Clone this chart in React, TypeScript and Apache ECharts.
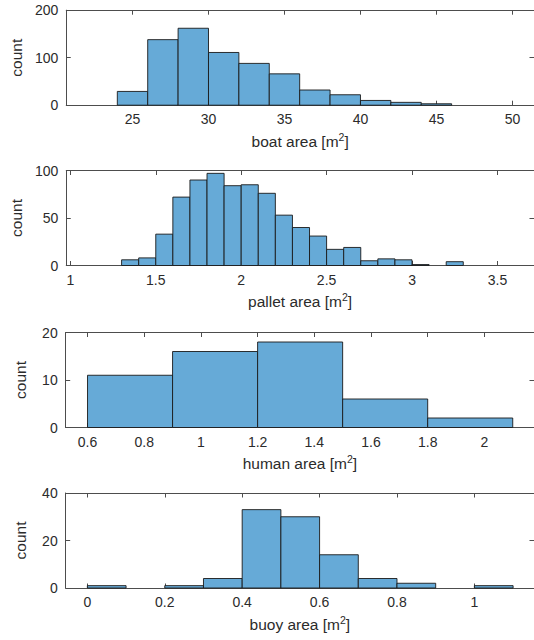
import React, { useEffect, useRef } from "react";
import * as echarts from "echarts";

// ---- data ----
const boatBinEdges = [24, 26, 28, 30, 32, 34, 36, 38, 40, 42, 44, 46];
const boatCounts = [29, 138, 162, 111, 88, 66, 32, 22, 10, 6, 3];
const boatTicks = [25, 30, 35, 40, 45, 50];

const palletBinEdges = [1.3, 1.4, 1.5, 1.6, 1.7, 1.8, 1.9, 2.0, 2.1, 2.2, 2.3, 2.4, 2.5, 2.6, 2.7, 2.8, 2.9, 3.0, 3.1, 3.2, 3.3];
const palletCounts = [6, 8, 33, 72, 90, 97, 84, 85, 76, 53, 40, 31, 17, 19, 5, 7, 6, 1, 0, 4];
const palletTicks = [1, 1.5, 2, 2.5, 3, 3.5];

const humanBinEdges = [0.6, 0.9, 1.2, 1.5, 1.8, 2.1];
const humanCounts = [11, 16, 18, 6, 2];
const humanTicks = [0.6, 0.8, 1, 1.2, 1.4, 1.6, 1.8, 2];

const buoyBinEdges = [0, 0.1, 0.2, 0.3, 0.4, 0.5, 0.6, 0.7, 0.8, 0.9, 1.0, 1.1];
const buoyCounts = [1, 0, 1, 4, 33, 30, 14, 4, 2, 0, 1];
const buoyTicks = [0, 0.2, 0.4, 0.6, 0.8, 1];

const panels = [
  { label: "boat area", edges: boatBinEdges, counts: boatCounts, ticks: boatTicks, xMin: 20.64, xMax: 51.42, yMax: 200, yStep: 100, top: 10.2 },
  { label: "pallet area", edges: palletBinEdges, counts: palletCounts, ticks: palletTicks, xMin: 0.976, xMax: 3.714, yMax: 100, yStep: 50, top: 170.5 },
  { label: "human area", edges: humanBinEdges, counts: humanCounts, ticks: humanTicks, xMin: 0.523, xMax: 2.175, yMax: 20, yStep: 10, top: 332.5 },
  { label: "buoy area", edges: buoyBinEdges, counts: buoyCounts, ticks: buoyTicks, xMin: -0.056, xMax: 1.154, yMax: 40, yStep: 20, top: 493 },
];

const FONT = "'Liberation Sans', Arial, Helvetica, sans-serif";
const TEXT = "#2b2b2b";
const AXIS = "#4d4d4d";
const FILL = "#66AAD7";
const EDGE = "#1a1a1a";
const GRID_LEFT = 65.7;
const GRID_WIDTH = 469.3;
const GRID_HEIGHT = 95;

export default function App() {
  const ref = useRef<HTMLDivElement>(null);

  useEffect(() => {
    if (!ref.current) return;
    const chart = echarts.init(ref.current, undefined, { renderer: "svg" });

    const grid: any[] = [];
    const xAxis: any[] = [];
    const yAxis: any[] = [];
    const series: any[] = [];

    panels.forEach((p, i) => {
      grid.push({ left: GRID_LEFT, top: p.top, width: GRID_WIDTH, height: GRID_HEIGHT, containLabel: false });
      const lineStyle = { color: AXIS, width: 1 };
      xAxis.push({
        type: "value",
        gridIndex: i,
        position: "bottom",
        min: p.xMin,
        max: p.xMax,
        axisLine: { show: true, onZero: false, lineStyle },
        axisTick: { show: true, inside: true, length: 4.5, lineStyle, customValues: p.ticks },
        axisLabel: { show: true, customValues: p.ticks, color: TEXT, fontSize: 14, fontFamily: FONT, margin: 7, hideOverlap: false, showMinLabel: true, showMaxLabel: true },
        splitLine: { show: false },
        name: p.label + " [m{sup|2}]",
        nameLocation: "middle",
        nameGap: 26,
        nameTextStyle: {
          color: TEXT,
          fontSize: 15.5,
          fontFamily: FONT,
          lineHeight: 20,
          rich: {
            sup: { fontSize: 10.5, fontFamily: FONT, color: TEXT, verticalAlign: "top", lineHeight: 10 },
          },
        },
      });
      xAxis.push({
        type: "value",
        gridIndex: i,
        position: "top",
        min: p.xMin,
        max: p.xMax,
        axisLine: { show: true, onZero: false, lineStyle },
        axisTick: { show: true, inside: true, length: 4.5, lineStyle, customValues: p.ticks },
        axisLabel: { show: false },
        splitLine: { show: false },
      });
      yAxis.push({
        type: "value",
        gridIndex: i,
        position: "left",
        min: 0,
        max: p.yMax,
        interval: p.yStep,
        axisLine: { show: true, onZero: false, lineStyle },
        axisTick: { show: true, inside: true, length: 4.5, lineStyle },
        axisLabel: { show: true, color: TEXT, fontSize: 14, fontFamily: FONT, margin: 8 },
        splitLine: { show: false },
        name: "count",
        nameLocation: "middle",
        nameGap: 37,
        nameRotate: 90,
        nameTextStyle: { color: TEXT, fontSize: 15.5, fontFamily: FONT },
      });
      yAxis.push({
        type: "value",
        gridIndex: i,
        position: "right",
        min: 0,
        max: p.yMax,
        interval: p.yStep,
        axisLine: { show: true, onZero: false, lineStyle },
        axisTick: { show: true, inside: true, length: 4.5, lineStyle },
        axisLabel: { show: false },
        splitLine: { show: false },
      });

      const data = p.counts.map((c, k) => [p.edges[k], p.edges[k + 1], c]);
      series.push({
        type: "custom",
        xAxisIndex: 2 * i,
        yAxisIndex: 2 * i,
        encode: { x: [0, 1], y: 2 },
        data,
        renderItem: (params: any, api: any) => {
          const x0 = api.value(0);
          const x1 = api.value(1);
          const c = api.value(2);
          if (!c) return null;
          const a = api.coord([x0, c]);
          const b = api.coord([x1, 0]);
          return {
            type: "rect",
            shape: { x: a[0], y: a[1], width: b[0] - a[0], height: b[1] - a[1] },
            style: { fill: FILL, stroke: EDGE, lineWidth: 0.9 },
          };
        },
      });
    });

    chart.setOption({
      animation: false,
      backgroundColor: "#ffffff",
      textStyle: { fontFamily: FONT },
      grid,
      xAxis,
      yAxis,
      series,
    });

    return () => chart.dispose();
  }, []);

  return (
    <div
      ref={ref}
      style={{ position: "fixed", left: 0, top: 0, width: 534, height: 640, background: "#fff" }}
    />
  );
}
